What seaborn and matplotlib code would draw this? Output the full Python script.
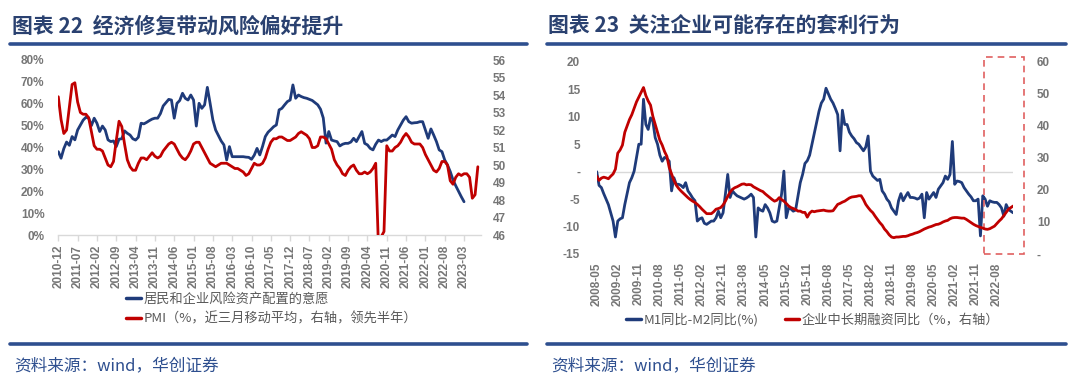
import numpy as np
import pandas as pd
import seaborn as sns
import matplotlib.pyplot as plt
from matplotlib.lines import Line2D
from matplotlib.patches import Rectangle
from matplotlib.ticker import FuncFormatter

sns.set_theme(style='white')
plt.rcParams['font.family'] = ['Liberation Sans', 'Noto Sans CJK SC', 'DejaVu Sans']
plt.rcParams['axes.unicode_minus'] = False

# --- data: left chart (monthly from 2010-12) ---
left_start = '2010-12'
risk_appetite = [  # 居民和企业风险资产配置的意愿, %
    38.1, 35.1, 39.5, 42.5, 41.0, 45.0, 43.5, 48.0, 50.3, 52.5, 53.8, 53.5,
    50.0, 53.4, 51.1, 47.3, 49.8, 48.0, 43.5, 42.7, 43.0, 40.4, 43.8, 44.0,
    47.6, 46.5, 45.7, 44.0, 43.4, 44.7, 51.1, 50.8, 51.5, 52.3, 53.0, 53.4,
    53.4, 55.5, 59.0, 60.5, 62.0, 61.7, 53.4, 60.2, 61.5, 64.8, 62.5, 61.7,
    64.0, 61.7, 49.8, 60.2, 57.9, 59.5, 67.5, 60.2, 52.6, 48.0, 45.5, 43.0,
    41.2, 34.3, 40.4, 35.8, 35.8, 35.8, 35.8, 35.8, 35.6, 35.5, 34.6, 36.5,
    39.6, 36.6, 40.5, 45.0, 47.0, 48.2, 49.5, 50.3, 57.2, 57.9, 59.5, 61.0,
    61.7, 68.6, 62.5, 64.0, 63.3, 62.8, 62.5, 62.0, 61.5, 60.5, 59.5, 57.5,
    53.5, 42.0, 47.3, 43.4, 43.0, 42.7, 40.7, 41.5, 41.9, 41.9, 42.5, 44.2,
    42.7, 45.0, 47.3, 41.9, 41.2, 39.6, 38.9, 41.5, 43.4, 42.7, 43.4, 43.4,
    44.5, 45.7, 45.0, 48.0, 50.3, 52.5, 54.1, 51.8, 51.1, 51.3, 51.4, 51.8,
    51.8, 48.0, 44.2, 48.5, 45.7, 42.7, 38.9, 38.1, 34.3, 32.0, 29.0, 25.2,
    22.5, 20.0, 17.5, 15.2,
]
pmi_lead = [  # PMI 3-month average, led by six months (right axis)
    53.9, 52.6, 51.8, 52.0, 53.3, 54.6, 54.7, 53.6, 53.0, 52.9, 52.9, 52.7,
    51.9, 51.1, 50.9, 50.9, 50.8, 50.4, 50.0, 49.9, 50.2, 51.4, 52.5, 52.2,
    51.2, 50.3, 49.9, 49.7, 49.7, 50.1, 50.4, 50.4, 50.3, 50.5, 50.7, 50.5,
    50.4, 50.5, 50.8, 51.0, 51.2, 51.3, 51.2, 50.9, 50.6, 50.4, 50.3, 50.5,
    50.8, 51.2, 51.3, 51.3, 51.0, 50.7, 50.4, 50.1, 50.0, 49.9, 50.0, 50.1,
    50.1, 50.1, 50.0, 49.9, 49.8, 49.8, 49.7, 49.6, 49.4, 49.5, 49.8, 50.1,
    50.0, 50.0, 50.1, 50.4, 50.9, 51.3, 51.5, 51.5, 51.6, 51.6, 51.5, 51.4,
    51.4, 51.5, 51.6, 51.8, 51.9, 51.8, 51.7, 51.5, 51.0, 51.0, 51.1, 51.6,
    51.6, 51.5, 51.2, 50.9, 50.3, 50.0, 49.8, 49.5, 49.4, 49.7, 49.9, 50.0,
    49.7, 49.5, 49.5, 49.6, 49.5, 49.6, 49.8, 50.1, 45.3, 45.9, 46.2, 51.1,
    50.8, 50.8, 51.0, 51.1, 51.3, 51.6, 51.8, 51.6, 51.3, 51.2, 51.2, 51.2,
    51.0, 50.6, 50.3, 50.0, 49.7, 49.6, 49.8, 50.2, 50.2, 50.0, 49.1, 48.9,
    49.3, 49.5, 49.4, 49.5, 49.5, 49.3, 48.1, 48.3, 49.9,
]

# --- data: right chart (monthly from 2008-05) ---
right_start = '2008-05'
m1_minus_m2 = [  # M1同比-M2同比, %
    0.0, -2.5, -2.9, -4.0, -5.0, -6.0, -7.5, -9.0, -11.9, -9.0, -8.6, -8.4,
    -6.0, -4.0, -2.0, -1.1, 0.1, 2.5, 5.0, 5.0, 13.2, 8.6, 7.7, 9.8,
    9.2, 6.2, 5.0, 3.0, 1.9, 2.6, 2.4, 1.9, -3.5, -1.1, -2.3, -2.3,
    -2.5, -2.9, -2.0, -3.5, -4.1, -4.8, -5.3, -9.0, -8.6, -8.4, -9.4, -9.6,
    -9.3, -9.0, -9.0, -8.4, -7.2, -8.4, -7.5, -4.1, -0.5, -4.7, -3.5, -4.0,
    -4.4, -4.6, -4.8, -5.0, -4.8, -4.5, -4.1, -4.7, -11.9, -6.6, -7.0, -7.2,
    -6.0, -6.6, -7.5, -9.0, -9.2, -9.0, -6.5, -4.1, 0.1, -8.4, -6.6, -6.8,
    -7.2, -7.0, -4.5, -2.0, -0.5, 1.5, 2.0, 3.0, 5.0, 7.0, 9.0, 11.0,
    12.5, 13.2, 15.2, 14.2, 13.2, 12.5, 11.5, 10.4, 3.8, 11.2, 8.6, 8.6,
    7.2, 6.5, 6.0, 5.3, 5.0, 4.4, 3.8, 4.5, 6.5, 0.1, -0.8, -1.2,
    -1.6, -1.4, -3.5, -4.1, -5.0, -5.5, -6.6, -7.2, -7.8, -5.3, -4.0, -5.3,
    -4.5, -3.8, -4.7, -4.7, -4.8, -5.0, -4.8, -4.1, -8.4, -3.8, -5.0, -4.4,
    -3.8, -4.7, -3.2, -2.6, -2.0, -0.8, -1.4, -0.5, 5.5, -2.3, -1.7, -1.8,
    -2.0, -2.9, -3.5, -4.1, -4.6, -5.3, -5.3, -5.0, -11.7, -4.4, -5.0, -6.3,
    -5.3, -5.5, -5.6, -5.6, -6.0, -6.6, -8.1, -6.0, -6.9, -7.2, -7.5,
]
long_loans = [  # 企业中长期融资同比, % (right axis)
    24.3, 23.0, 23.7, 24.0, 23.8, 23.5, 24.3, 25.0, 26.5, 31.5, 32.5, 34.0,
    38.0, 40.0, 42.0, 43.5, 45.5, 47.5, 49.0, 50.5, 52.0, 49.5, 47.8, 46.5,
    43.0, 40.5, 38.0, 35.5, 34.0, 32.0, 30.5, 27.0, 25.0, 23.0, 21.5, 20.5,
    19.7, 19.0, 18.3, 17.6, 17.0, 16.5, 16.1, 15.5, 14.8, 14.0, 13.3, 12.6,
    12.6, 12.6, 13.2, 14.0, 14.2, 14.5, 15.3, 16.5, 18.0, 19.3, 20.2, 20.7,
    21.0, 21.4, 21.8, 21.9, 21.6, 21.7, 21.6, 21.0, 20.6, 20.2, 19.8, 19.5,
    18.8, 18.2, 17.6, 17.0, 16.5, 16.8, 17.6, 17.0, 16.5, 15.8, 15.0, 14.5,
    14.2, 13.9, 13.4, 13.4, 13.0, 13.0, 11.5, 12.8, 13.4, 13.2, 13.4, 13.5,
    13.6, 13.7, 13.5, 13.4, 13.4, 13.5, 14.5, 15.5, 15.8, 16.2, 16.5, 17.0,
    17.5, 17.8, 17.9, 18.0, 18.2, 18.2, 17.0, 15.5, 14.5, 13.6, 12.9, 11.8,
    10.8, 9.8, 9.0, 7.8, 7.0, 6.0, 5.3, 5.1, 5.3, 5.3, 5.4, 5.5,
    5.5, 5.7, 6.0, 6.2, 6.5, 6.7, 7.0, 7.4, 7.8, 8.1, 8.4, 8.6,
    8.9, 9.2, 9.3, 9.6, 10.0, 10.3, 10.5, 11.0, 11.3, 11.4, 11.4, 11.3,
    11.2, 11.2, 10.8, 10.3, 9.8, 9.3, 8.9, 8.6, 8.3, 8.1, 7.8, 7.7,
    7.9, 8.3, 8.7, 9.5, 10.3, 11.0, 12.0, 13.0, 14.0, 14.5, 15.0,
]

NAVY = '#1F3B7A'
RED = '#C00000'
GRAY = '#767676'
AXIS_GRAY = '#D9D9D9'
TITLE_BLUE = '#2A4170'
RULE_BLUE = '#2E4F8F'
W, H = 1080, 382


def fx(px):
    return px / W


def fy(py):
    return 1 - py / H


fig = plt.figure(figsize=(10.8, 3.82), dpi=100)
fig.patch.set_facecolor('white')

tick_font = dict(fontsize=8.5, fontweight='bold', color=GRAY)

# ---------------- left chart ----------------
left_dates = pd.period_range(left_start, periods=len(pmi_lead), freq='M').strftime('%Y-%m')
ax1 = fig.add_axes([fx(58.3), fy(235), fx(480.6 - 58.3), 175 / H])
ax1b = ax1.twinx()
sns.lineplot(x=np.arange(len(risk_appetite)), y=risk_appetite, ax=ax1, color=NAVY, lw=2.0)
sns.lineplot(x=np.arange(len(pmi_lead)), y=pmi_lead, ax=ax1b, color=RED, lw=2.0)
ax1.set_xlim(0, 153)
ax1.set_ylim(0, 80)
ax1b.set_ylim(46, 56)

xt = np.arange(0, len(risk_appetite), 7)
ax1.set_xticks(xt)
ax1.set_xticklabels([left_dates[i] for i in xt], rotation=90, **tick_font)
ax1.set_yticks(range(0, 81, 10))
ax1.set_yticklabels([f'{v}%' for v in range(0, 81, 10)], **tick_font)
ax1b.set_yticks(range(46, 57))
ax1b.set_yticklabels([str(v) for v in range(46, 57)], **tick_font)
ax1.tick_params(axis='x', direction='out', length=4, color=AXIS_GRAY, width=1, pad=3, bottom=True)
ax1.tick_params(axis='y', length=0, pad=10)
ax1b.tick_params(axis='y', length=0, pad=9)
for a in (ax1, ax1b):
    for s in ('top', 'left', 'right', 'bottom'):
        a.spines[s].set_visible(False)
    a.set_xlabel('')
    a.set_ylabel('')
    a.grid(False)
ax1.spines['bottom'].set_visible(True)
ax1.spines['bottom'].set_color(AXIS_GRAY)
ax1.spines['bottom'].set_linewidth(1)

# ---------------- right chart ----------------
right_dates = pd.period_range(right_start, periods=len(m1_minus_m2), freq='M').strftime('%Y-%m')
ax2 = fig.add_axes([fx(596.7), fy(254), fx(1013.2 - 596.7), (254 - 61.9) / H])
ax2b = ax2.twinx()
ax2.axhline(0, color=AXIS_GRAY, lw=1, zorder=0)
sns.lineplot(x=np.arange(len(m1_minus_m2)), y=m1_minus_m2, ax=ax2, color=NAVY, lw=2.0)
sns.lineplot(x=np.arange(len(long_loans)), y=long_loans, ax=ax2b, color=RED, lw=2.0)
ax2.set_xlim(0, len(m1_minus_m2) - 1)
ax2.set_ylim(-15, 20)
ax2b.set_ylim(0, 60)


def dash_zero(v, pos):
    return '-' if abs(v) < 1e-9 else f'{int(v)}'


ax2.set_yticks(range(-15, 21, 5))
ax2.yaxis.set_major_formatter(FuncFormatter(dash_zero))
ax2b.set_yticks(range(0, 61, 10))
ax2b.yaxis.set_major_formatter(FuncFormatter(dash_zero))
for lbl in ax2.get_yticklabels() + ax2b.get_yticklabels():
    lbl.set_fontsize(8.5)
    lbl.set_fontweight('bold')
    lbl.set_color(GRAY)
ax2.tick_params(axis='y', length=0, pad=12)
ax2b.tick_params(axis='y', length=0, pad=17)

xt2 = np.arange(0, len(m1_minus_m2), 9)
# small tick marks on the zero line, labels at the bottom
ax2.spines['bottom'].set_position(('data', 0))
ax2.set_xticks(xt2)
ax2.tick_params(axis='x', direction='in', length=3, color=AXIS_GRAY, labelbottom=False)
sec = ax2.secondary_xaxis('bottom')
sec.set_xticks(xt2)
sec.set_xticklabels([right_dates[i] for i in xt2], rotation=90, **tick_font)
sec.tick_params(length=0, pad=6)
sec.spines['bottom'].set_visible(False)
for a in (ax2, ax2b):
    for s in ('top', 'left', 'right', 'bottom'):
        a.spines[s].set_visible(False)
    a.set_xlabel('')
    a.set_ylabel('')
    a.grid(False)

# dashed highlight box over the latest months
box_x0, box_x1 = 165.5, 182.5
box_y0, box_y1 = -15, 20.9
ax2.add_patch(Rectangle((box_x0, box_y0), box_x1 - box_x0, box_y1 - box_y0, fill=False,
                        ec='#E06060', lw=1.2, ls=(0, (4, 3)), clip_on=False, zorder=5))

# ---------------- titles, rules, legends, sources ----------------
fig.text(fx(12), fy(26), '图表 22  经济修复带动风险偏好提升', fontsize=15, fontweight='bold',
         color=TITLE_BLUE, va='center', ha='left', family=['Noto Sans CJK SC'])
fig.text(fx(548), fy(26), '图表 23  关注企业可能存在的套利行为', fontsize=15, fontweight='bold',
         color=TITLE_BLUE, va='center', ha='left', family=['Noto Sans CJK SC'])
for x0, x1 in ((10, 527), (547, 1066)):
    fig.add_artist(Line2D([fx(x0), fx(x1)], [fy(43.7)] * 2, lw=2.6, color=RULE_BLUE))
    fig.add_artist(Line2D([fx(x0), fx(x1)], [fy(344)] * 2, lw=2.6, color=RULE_BLUE))

leg_font = {'family': ['Noto Sans CJK SC'], 'size': 9.5}
h_blue = Line2D([], [], color=NAVY, lw=2.5)
h_red = Line2D([], [], color=RED, lw=2.5)
fig.legend([h_blue, h_red], ['居民和企业风险资产配置的意愿', 'PMI（%，近三月移动平均，右轴，领先半年）'],
           loc='upper left', bbox_to_anchor=(fx(126), fy(293)), frameon=False, prop=leg_font,
           labelcolor='#595959', handlelength=1.1, handletextpad=0.2, labelspacing=0.5,
           borderpad=0, borderaxespad=0)
fig.legend([h_blue, h_red], ['M1同比-M2同比(%)', '企业中长期融资同比（%，右轴）'],
           loc='upper left', bbox_to_anchor=(fx(626), fy(313)), frameon=False, prop=leg_font,
           labelcolor='#595959', handlelength=1.1, handletextpad=0.2, ncol=2, columnspacing=2.0,
           borderpad=0, borderaxespad=0)

for x in (14, 551):
    fig.text(fx(x), fy(366), '资料来源：wind，华创证券', fontsize=12, color=RULE_BLUE,
             style='italic', va='center', ha='left', family=['Noto Sans CJK SC'])

fig.savefig('out.png', dpi=100, facecolor='white')
